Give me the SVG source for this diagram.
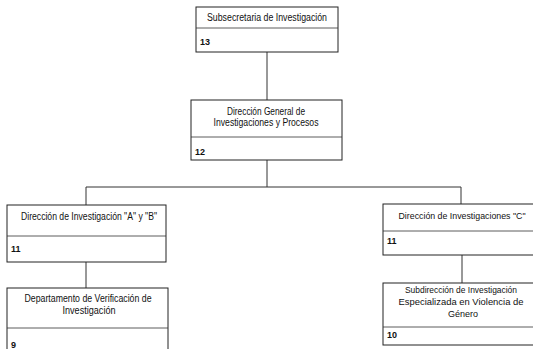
<svg xmlns="http://www.w3.org/2000/svg" width="533" height="349" viewBox="0 0 533 349">
<style>
.box{fill:#fff;stroke:#222;stroke-width:1}
.div{stroke:#333;stroke-width:0.8}
.t{font-family:"Liberation Sans",Arial,sans-serif;font-size:10px;fill:#111;text-anchor:middle}
.s{font-size:9px}
.n{font-family:"Liberation Sans",Arial,sans-serif;font-size:9px;font-weight:bold;fill:#111}
.c{stroke:#333;stroke-width:1;fill:none}
</style>
<rect width="533" height="349" fill="#fff"/>
<g id="connectors">
<path class="c" d="M267 52V100M267 160V187M86 187H461M86 187V205M461 187V204M86 262V288M462 255V283"/>
</g>
<g id="n13">
<rect class="box" x="196" y="7" width="142" height="45"/>
<line class="div" x1="196" y1="28" x2="338" y2="28"/>
<text class="t" x="267" y="21" textLength="120" lengthAdjust="spacingAndGlyphs">Subsecretaria de Investigación</text>
<text class="n" x="200" y="45">13</text>
</g>
<g id="n12">
<rect class="box" x="191" y="100" width="151" height="60"/>
<line class="div" x1="191" y1="137" x2="342" y2="137"/>
<text class="t" x="266" y="115" textLength="78" lengthAdjust="spacingAndGlyphs">Dirección General de</text>
<text class="t" x="266" y="126" textLength="105" lengthAdjust="spacingAndGlyphs">Investigaciones y Procesos</text>
<text class="n" x="195" y="155">12</text>
</g>
<g id="n11a">
<rect class="box" x="7" y="205" width="159" height="57"/>
<line class="div" x1="7" y1="236" x2="166" y2="236"/>
<text class="t" x="89" y="220" textLength="136" lengthAdjust="spacingAndGlyphs">Dirección de Investigación "A" y "B"</text>
<text class="n" x="11" y="252">11</text>
</g>
<g id="n11c">
<rect class="box" x="383" y="204" width="151" height="51"/>
<line class="div" x1="383" y1="231" x2="533" y2="231"/>
<text class="t s" x="462" y="219" textLength="127" lengthAdjust="spacingAndGlyphs">Dirección de Investigaciones "C"</text>
<text class="n" x="387" y="244">11</text>
</g>
<g id="n9">
<rect class="box" x="7" y="288" width="161" height="75"/>
<line class="div" x1="7" y1="328" x2="168" y2="328"/>
<text class="t" x="88" y="302" textLength="127" lengthAdjust="spacingAndGlyphs">Departamento de Verificación de</text>
<text class="t" x="89" y="314" textLength="53" lengthAdjust="spacingAndGlyphs">Investigación</text>
<text class="n" x="11" y="348">9</text>
</g>
<g id="n10">
<rect class="box" x="383" y="283" width="151" height="62"/>
<line class="div" x1="383" y1="327" x2="533" y2="327"/>
<text class="t s" x="461" y="293" textLength="112" lengthAdjust="spacingAndGlyphs">Subdirección de Investigación</text>
<text class="t s" x="461" y="305" textLength="125" lengthAdjust="spacingAndGlyphs">Especializada en Violencia de</text>
<text class="t s" x="463" y="317">Género</text>
<text class="n" x="387" y="338">10</text>
</g>
</svg>
